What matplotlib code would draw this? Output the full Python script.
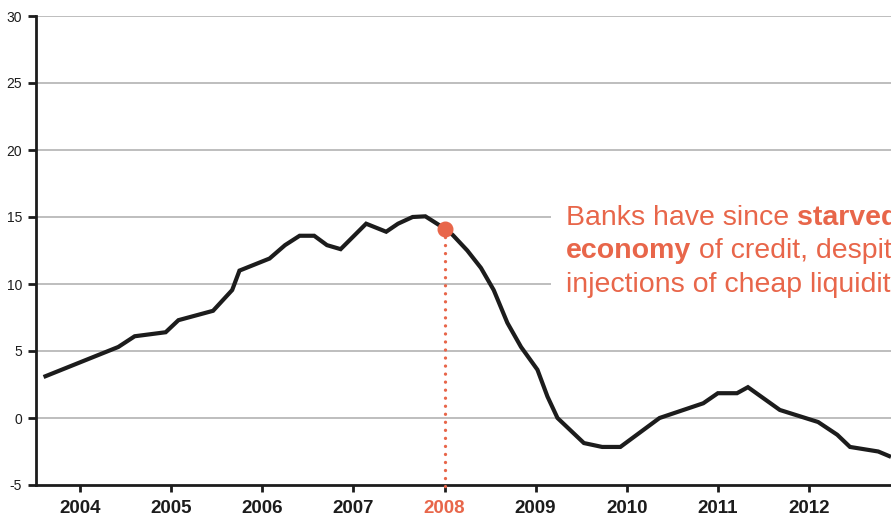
import matplotlib
matplotlib.use("Agg")
import matplotlib.pyplot as plt
from matplotlib.patches import Rectangle

# Lending growth, % year on year
dates = [2003.60, 2004.42, 2004.60, 2004.94, 2005.08, 2005.46, 2005.67, 2005.75,
         2006.08, 2006.25, 2006.41, 2006.57, 2006.71, 2006.86, 2007.14, 2007.36,
         2007.49, 2007.65, 2007.79, 2008.01, 2008.09, 2008.25, 2008.40, 2008.54,
         2008.69, 2008.84, 2009.02, 2009.13, 2009.24, 2009.53, 2009.73, 2009.93,
         2010.36, 2010.84, 2011.00, 2011.21, 2011.33, 2011.68, 2012.10, 2012.31,
         2012.45, 2012.76, 2012.90]
values = [3.06, 5.3, 6.1, 6.4, 7.3, 8.0, 9.55, 11.0,
          11.9, 12.9, 13.6, 13.6, 12.9, 12.6, 14.5, 13.9,
          14.5, 15.0, 15.05, 14.1, 13.66, 12.5, 11.2, 9.55,
          7.1, 5.3, 3.6, 1.6, 0.0, -1.87, -2.16, -2.16,
          0.0, 1.1, 1.85, 1.85, 2.3, 0.6, -0.3, -1.25,
          -2.16, -2.5, -2.9]

year_ticks = [2004, 2005, 2006, 2007, 2008, 2009, 2010, 2011, 2012]
y_ticks = [-5, 0, 5, 10, 15, 20, 25, 30]

marker_date = 2008.01
marker_value = 14.1

note_lines = [
    [("Banks have since ", "normal"), ("starved the", "bold")],
    [("economy", "bold"), (" of credit, despite", "normal")],
    [("injections of cheap liquidity.", "normal")],
]

ORANGE = "#E8664A"
INK = "#1c1c1c"
GRID = "#b3b3b3"

plt.rcParams["font.family"] = ["Liberation Sans", "DejaVu Sans"]

W, H = 891, 523
fig = plt.figure(figsize=(W / 100, H / 100), dpi=100)
ax = fig.add_axes([36 / W, 38 / H, 1 - 36 / W, (485 - 16) / H])

ax.set_xlim(2003.517, 2012.90)
ax.set_ylim(-5, 30)

for t in y_ticks[1:]:
    ax.axhline(t, color=GRID, lw=1.2, zorder=1)

ax.plot(dates, values, color=INK, lw=3.0, solid_joinstyle="miter",
        solid_capstyle="butt", zorder=3)

# dotted drop line from the marker to the axis
ax.plot([marker_date, marker_date], [marker_value, -5.35], color=ORANGE,
        lw=2.4, linestyle=(0, (0.01, 2.4)), dash_capstyle="round",
        clip_on=False, zorder=4)
ax.plot([marker_date], [marker_value], "o", color=ORANGE, ms=10.5,
        mec=ORANGE, zorder=5)

for s in ("top", "right"):
    ax.spines[s].set_visible(False)
for s in ("left", "bottom"):
    ax.spines[s].set_color(INK)
    ax.spines[s].set_linewidth(2.0)

ax.set_yticks(y_ticks)
ax.set_yticklabels([str(v) for v in y_ticks], fontsize=10, color=INK)
ax.set_xticks(year_ticks)
ax.set_xticklabels([str(y) for y in year_ticks], fontsize=13.5,
                   fontweight="bold", color=INK)
ax.get_xticklabels()[year_ticks.index(2008)].set_color(ORANGE)
ax.tick_params(axis="y", length=6, width=2.0, color=INK, pad=4)
ax.tick_params(axis="x", length=5, width=2.0, color=INK, pad=6)

# white panel behind the note
ax.add_patch(Rectangle((551 / W, 1 - 300 / H), 1.0, 100 / H,
                       transform=fig.transFigure, facecolor="white",
                       edgecolor="none", zorder=2))

fig.canvas.draw()
renderer = fig.canvas.get_renderer()
x0 = 566
line_y = [218, 251, 285]
for parts, yc in zip(note_lines, line_y):
    x = x0
    for txt, weight in parts:
        t = fig.text(x / W, 1 - yc / H, txt, fontsize=20.5, fontweight=weight,
                     color=ORANGE, va="center", ha="left", zorder=6)
        bb = t.get_window_extent(renderer=renderer)
        x += bb.width

fig.savefig("out.png", dpi=100)
